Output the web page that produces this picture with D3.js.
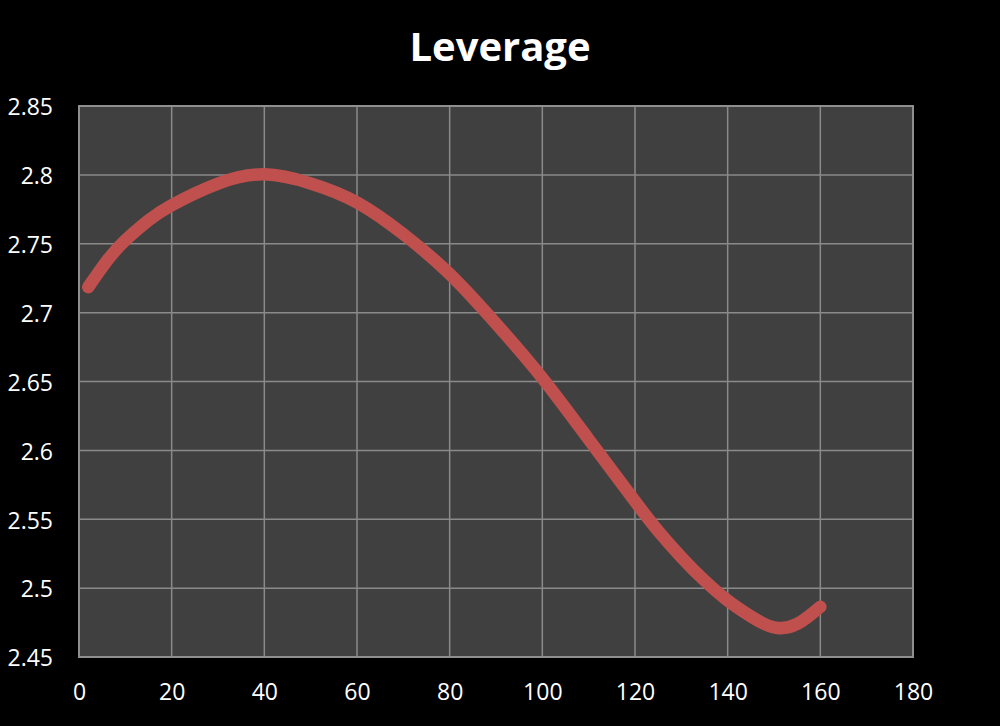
<!DOCTYPE html>
<html>
<head>
<meta charset="utf-8">
<script src="https://cdn.jsdelivr.net/npm/d3@7"></script>
<style>
  html, body { margin: 0; padding: 0; background: #000; }
  svg { display: block; }
</style>
</head>
<body>
<svg id="chart" width="1000" height="726"></svg>
<script>
const title = "Leverage";
const xValues = [2, 6, 10, 15, 20, 30, 40, 50, 60, 70, 80, 90, 100, 110, 120, 125, 130, 135, 140, 145, 150, 155, 160];
const yValues = [2.7185, 2.7375, 2.7525, 2.767, 2.778, 2.7937, 2.8004, 2.7938, 2.780, 2.757, 2.728, 2.692, 2.6525, 2.608, 2.563, 2.5415, 2.5225, 2.5055, 2.491, 2.4795, 2.4715, 2.474, 2.4865];
const xTicks = [0, 20, 40, 60, 80, 100, 120, 140, 160, 180];
const yTicks = [2.45, 2.5, 2.55, 2.6, 2.65, 2.7, 2.75, 2.8, 2.85];

(function () {
const svg = d3.select("#chart");
const pLeft = 79, pRight = 913, pTop = 106, pBottom = 657;

const x = d3.scaleLinear().domain([0, 180]).range([pLeft, pRight]);
const y = d3.scaleLinear().domain([2.45, 2.85]).range([pBottom, pTop]);

svg.append("rect").attr("width", 1000).attr("height", 726).attr("fill", "#000");

svg.append("rect")
  .attr("x", pLeft).attr("y", pTop)
  .attr("width", pRight - pLeft).attr("height", pBottom - pTop)
  .attr("fill", "#404040");

// gridlines
const grid = svg.append("g").attr("stroke", "#8a8a8a").attr("stroke-width", 1.5);
grid.selectAll("line.h").data(yTicks).enter().append("line")
  .attr("x1", pLeft).attr("x2", pRight)
  .attr("y1", d => y(d)).attr("y2", d => y(d));
grid.selectAll("line.v").data(xTicks).enter().append("line")
  .attr("y1", pTop).attr("y2", pBottom)
  .attr("x1", d => x(d)).attr("x2", d => x(d));

svg.append("rect")
  .attr("x", pLeft).attr("y", pTop)
  .attr("width", pRight - pLeft).attr("height", pBottom - pTop)
  .attr("fill", "none").attr("stroke", "#8f8f8f").attr("stroke-width", 2);

// axes labels
const yAxis = d3.axisLeft(y).tickValues(yTicks).tickSize(0).tickPadding(26)
  .tickFormat(d => String(+d.toFixed(2)));
const gy = svg.append("g").attr("transform", `translate(${pLeft},0)`).call(yAxis);
gy.select(".domain").remove();
gy.selectAll("text").attr("fill", "#fff").attr("dy", "0.38em")
  .style("font-family", "'Open Sans', sans-serif").style("font-size", "23px");

const xAxis = d3.axisBottom(x).tickValues(xTicks).tickSize(0).tickPadding(27);
const gx = svg.append("g").attr("transform", `translate(0,${pBottom})`).call(xAxis);
gx.select(".domain").remove();
gx.selectAll("text").attr("fill", "#fff")
  .style("font-family", "'Open Sans', sans-serif").style("font-size", "23px");

// line
const data = xValues.map((v, i) => [v, yValues[i]]);
const line = d3.line().x(d => x(d[0])).y(d => y(d[1])).curve(d3.curveNatural);
svg.append("path").datum(data)
  .attr("d", line)
  .attr("fill", "none")
  .attr("stroke", "#c0504d")
  .attr("stroke-width", 12.5)
  .attr("stroke-linecap", "round")
  .attr("stroke-linejoin", "round");

// title
svg.append("text")
  .attr("x", 500).attr("y", 61)
  .attr("text-anchor", "middle")
  .attr("fill", "#fff")
  .style("font-family", "'Open Sans', sans-serif")
  .style("font-weight", "bold")
  .style("font-size", "40px")
  .text(title);
})();
</script>
</body>
</html>
